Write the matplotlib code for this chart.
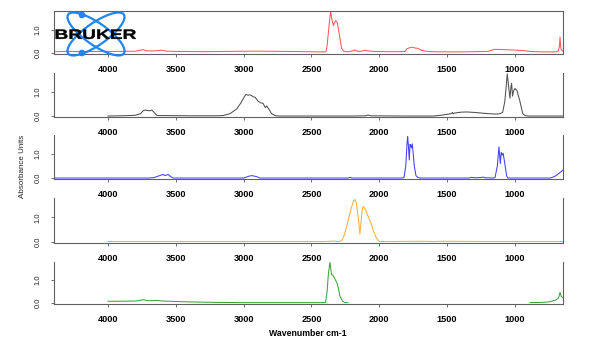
import numpy as np
import matplotlib
matplotlib.use("Agg")
import matplotlib.pyplot as plt
from matplotlib.patches import Ellipse, Circle, PathPatch
from matplotlib.textpath import TextPath
from matplotlib.font_manager import FontProperties
from matplotlib.path import Path

plt.rcParams['font.family'] = ['Liberation Sans', 'DejaVu Sans']

# ---- spectra (wavenumber cm-1, absorbance) ----
red_wn = [4398, 4300, 4200, 4100, 4000, 3900, 3800, 3760, 3742, 3720, 3680, 3640, 3602, 3570,
          3500, 3300, 3100, 2950, 2850, 2700, 2550, 2450, 2400, 2393, 2385, 2370, 2359, 2350,
          2339, 2330, 2322, 2310, 2295, 2278, 2265, 2253, 2220, 2195, 2179, 2160, 2130, 2106,
          2080, 2040, 1950, 1850, 1811, 1796, 1780, 1762, 1740, 1715, 1690, 1663, 1620, 1500,
          1400, 1300, 1200, 1184, 1150, 1111, 1050, 980, 930, 890, 850, 800, 750, 700, 690,
          680, 672, 668, 662, 655, 648]
red_ab = [0.06, 0.07, 0.06, 0.07, 0.07, 0.07, 0.08, 0.12, 0.15, 0.10, 0.09, 0.10, 0.12, 0.08,
          0.07, 0.06, 0.07, 0.08, 0.08, 0.07, 0.06, 0.05, 0.05, 0.06, 0.3, 1.2, 1.78, 1.45,
          1.17, 1.3, 1.37, 1.3, 0.8, 0.2, 0.1, 0.06, 0.06, 0.1, 0.13, 0.07, 0.08, 0.12,
          0.09, 0.07, 0.06, 0.06, 0.07, 0.18, 0.22, 0.25, 0.22, 0.2, 0.12, 0.08, 0.06, 0.05,
          0.05, 0.06, 0.07, 0.1, 0.16, 0.15, 0.14, 0.12, 0.1, 0.07, 0.06, 0.05, 0.05, 0.05,
          0.06, 0.1, 0.3, 0.68, 0.2, 0.12, 0.1]

black_wn = [4000, 3900, 3800, 3760, 3740, 3727, 3710, 3690, 3678, 3660, 3639, 3600, 3400, 3200,
            3152, 3100, 3050, 3020, 2995, 2983, 2970, 2955, 2941, 2931, 2915, 2894, 2875, 2857,
            2850, 2840, 2830, 2818, 2805, 2794, 2769, 2740, 2500, 2200, 2100, 2084, 2060, 1800,
            1604, 1550, 1500, 1470, 1460, 1457, 1450, 1400, 1356, 1300, 1258, 1200, 1135, 1110,
            1091, 1075, 1062, 1057, 1048, 1037, 1030, 1025, 1018, 1010, 1000, 985, 963, 943,
            926, 900, 800, 700, 650]
black_ab = [0.0, 0.01, 0.03, 0.1, 0.22, 0.25, 0.23, 0.22, 0.25, 0.15, 0.02, 0.02, 0.01, 0.01,
            0.02, 0.1, 0.3, 0.55, 0.8, 0.9, 0.87, 0.88, 0.85, 0.8, 0.78, 0.62, 0.55, 0.53,
            0.45, 0.35, 0.42, 0.32, 0.2, 0.1, 0.02, 0.0, 0.0, 0.0, 0.01, 0.04, 0.01, 0.0,
            0.0, 0.03, 0.07, 0.1, 0.15, 0.09, 0.12, 0.16, 0.17, 0.15, 0.13, 0.1, 0.08, 0.1,
            0.15, 0.6, 1.4, 1.75, 1.3, 0.74, 1.2, 1.36, 0.83, 1.05, 1.15, 1.05, 0.6, 0.1,
            0.02, 0.0, 0.0, 0.0, 0.0]

blue_wn = [4398, 3700, 3660, 3630, 3610, 3594, 3580, 3570, 3558, 3540, 3520, 3400, 3000, 2990,
           2960, 2941, 2920, 2900, 2880, 2800, 2230, 2216, 2200, 1900, 1830, 1818, 1805, 1795,
           1791, 1785, 1779, 1774, 1769, 1763, 1757, 1750, 1742, 1730, 1715, 1700, 1340, 1320,
           1300, 1250, 1236, 1220, 1160, 1147, 1130, 1118, 1108, 1101, 1094, 1087, 1075, 1062,
           1052, 1000, 800, 740, 730, 710, 690, 670, 646]
blue_ab = [0.0, 0.0, 0.02, 0.08, 0.12, 0.15, 0.1, 0.12, 0.15, 0.07, 0.0, 0.0, 0.0, 0.02,
           0.08, 0.1, 0.08, 0.05, 0.0, 0.0, 0.0, 0.03, 0.0, 0.0, 0.0, 0.02, 0.5, 1.5,
           1.72, 1.3, 0.75, 1.4, 1.37, 1.25, 1.42, 1.0, 0.5, 0.1, 0.02, 0.0, 0.0, 0.03,
           0.01, 0.02, 0.04, 0.01, 0.0, 0.02, 0.5, 1.3, 0.6, 1.07, 0.95, 1.03, 0.6, 0.1,
           0.0, 0.0, 0.0, 0.0, 0.02, 0.06, 0.13, 0.22, 0.33]

orange_wn = [4000, 3500, 3000, 2500, 2400, 2360, 2339, 2320, 2300, 2278, 2260, 2241, 2220, 2204,
             2190, 2179, 2170, 2155, 2143, 2135, 2125, 2118, 2100, 2081, 2060, 2045, 2025, 2008,
             1995, 1900, 1700, 1600, 1500, 1200, 900, 650]
orange_ab = [0.02, 0.02, 0.02, 0.02, 0.02, 0.03, 0.04, 0.03, 0.02, 0.05, 0.25, 0.62, 1.1, 1.42,
             1.68, 1.73, 1.6, 1.0, 0.32, 0.8, 1.35, 1.45, 1.3, 1.02, 0.75, 0.48, 0.2, 0.05,
             0.02, 0.02, 0.03, 0.02, 0.03, 0.02, 0.02, 0.02]

# green trace has no data between ~2230 and ~890
green_wn = [4000, 3900, 3800, 3760, 3742, 3720, 3690, 3660, 3639, 3600, 3500, 3396, 3200, 3029,
            2800, 2600, 2450, 2410, 2396, 2385, 2375, 2364, 2352, 2340, 2327, 2310, 2300, 2290,
            2270, 2253, 2231, 1500, 889, 800, 750, 720, 700, 683, 675, 668, 660, 650]
green_ab = [0.08, 0.08, 0.09, 0.12, 0.15, 0.12, 0.1, 0.11, 0.12, 0.09, 0.07, 0.05, 0.03, 0.02,
            0.02, 0.02, 0.02, 0.02, 0.03, 0.5, 1.3, 1.77, 1.25, 1.2, 1.05, 0.85, 0.6, 0.3,
            0.08, 0.02, 0.02, np.nan, 0.02, 0.03, 0.05, 0.1, 0.13, 0.2, 0.3, 0.47, 0.3, 0.25]

spectra = [(red_wn, red_ab, '#ff5858'),
           (black_wn, black_ab, '#505050'),
           (blue_wn, blue_ab, '#4040ff'),
           (orange_wn, orange_ab, '#ffad40'),
           (green_wn, green_ab, '#3ea03e')]

x_ticks = [4000, 3500, 3000, 2500, 2000, 1500, 1000]
y_ticks = [0.0, 1.0]

# panel boxes in pixels (top, bottom) of the 600x350 image
panel_px = [(11, 54), (73, 117), (135, 179), (198, 243), (262, 304)]

fig = plt.figure(figsize=(6, 3.5), dpi=100)
left, right = 54 / 600, 563 / 600

for i, ((wn, ab, col), (top, bot)) in enumerate(zip(spectra, panel_px)):
    ax = fig.add_axes([left, 1 - bot / 350, right - left, (bot - top) / 350])
    ax.plot(wn, ab, color=col, lw=0.75)
    ax.set_xlim(4398, 646)
    ax.set_ylim(-0.04, 1.79)
    ax.set_xticks(x_ticks)
    ax.set_yticks(y_ticks)
    ax.set_yticklabels(['0.0', '1.0'], rotation=90, va='center', fontsize=5.4)
    ax.set_xticklabels([str(t) for t in x_ticks], fontsize=6.6, fontweight='bold')
    ax.tick_params(axis='x', length=2.5, width=0.6, pad=5.5, colors='#555555', labelcolor='black')
    ax.tick_params(axis='y', length=2.5, width=0.6, pad=6.5, colors='#555555', labelcolor='#222222')
    for s in ax.spines.values():
        s.set_color('#606060')
        s.set_linewidth(0.8)
    if i > 0:
        ax.spines['top'].set_visible(False)
    ax.patch.set_alpha(0)

fig.text(23 / 600, 1 - 166 / 350, 'Absorbance Units', rotation=90, ha='center', va='center',
         fontsize=5.8, color='#222222')
fig.text(308 / 600, 1 - 334 / 350, 'Wavenumber cm-1', ha='center', va='center',
         fontsize=6.3, fontweight='bold')

# Bruker logo drawn in image pixel coordinates
lg = fig.add_axes([0, 0, 1, 1])
lg.set_xlim(0, 600)
lg.set_ylim(350, 0)
lg.axis('off')
lg.patch.set_alpha(0)
logo_blue = '#1f86f0'
for ang in (35, -35):
    lg.add_patch(Ellipse((96, 34), 68, 22, angle=ang, fill=False, ec=logo_blue, lw=1.6))
for cy in (15, 53):
    lg.add_patch(Circle((82, cy), 2.6, color=logo_blue))
tp = TextPath((0, 0), 'BRUKER', size=10, prop=FontProperties(family='Liberation Sans', weight='bold'))
v = tp.vertices.copy()
bx0, by0 = v[:, 0].min(), v[:, 1].min()
bw, bh = v[:, 0].max() - bx0, v[:, 1].max() - by0
v[:, 0] = 54.5 + (v[:, 0] - bx0) / bw * 81.5
v[:, 1] = 39 - (v[:, 1] - by0) / bh * 9.5
lg.add_patch(PathPatch(Path(v, tp.codes), fc='black', ec='black', lw=0.3))

fig.savefig('out.png', dpi=100)
